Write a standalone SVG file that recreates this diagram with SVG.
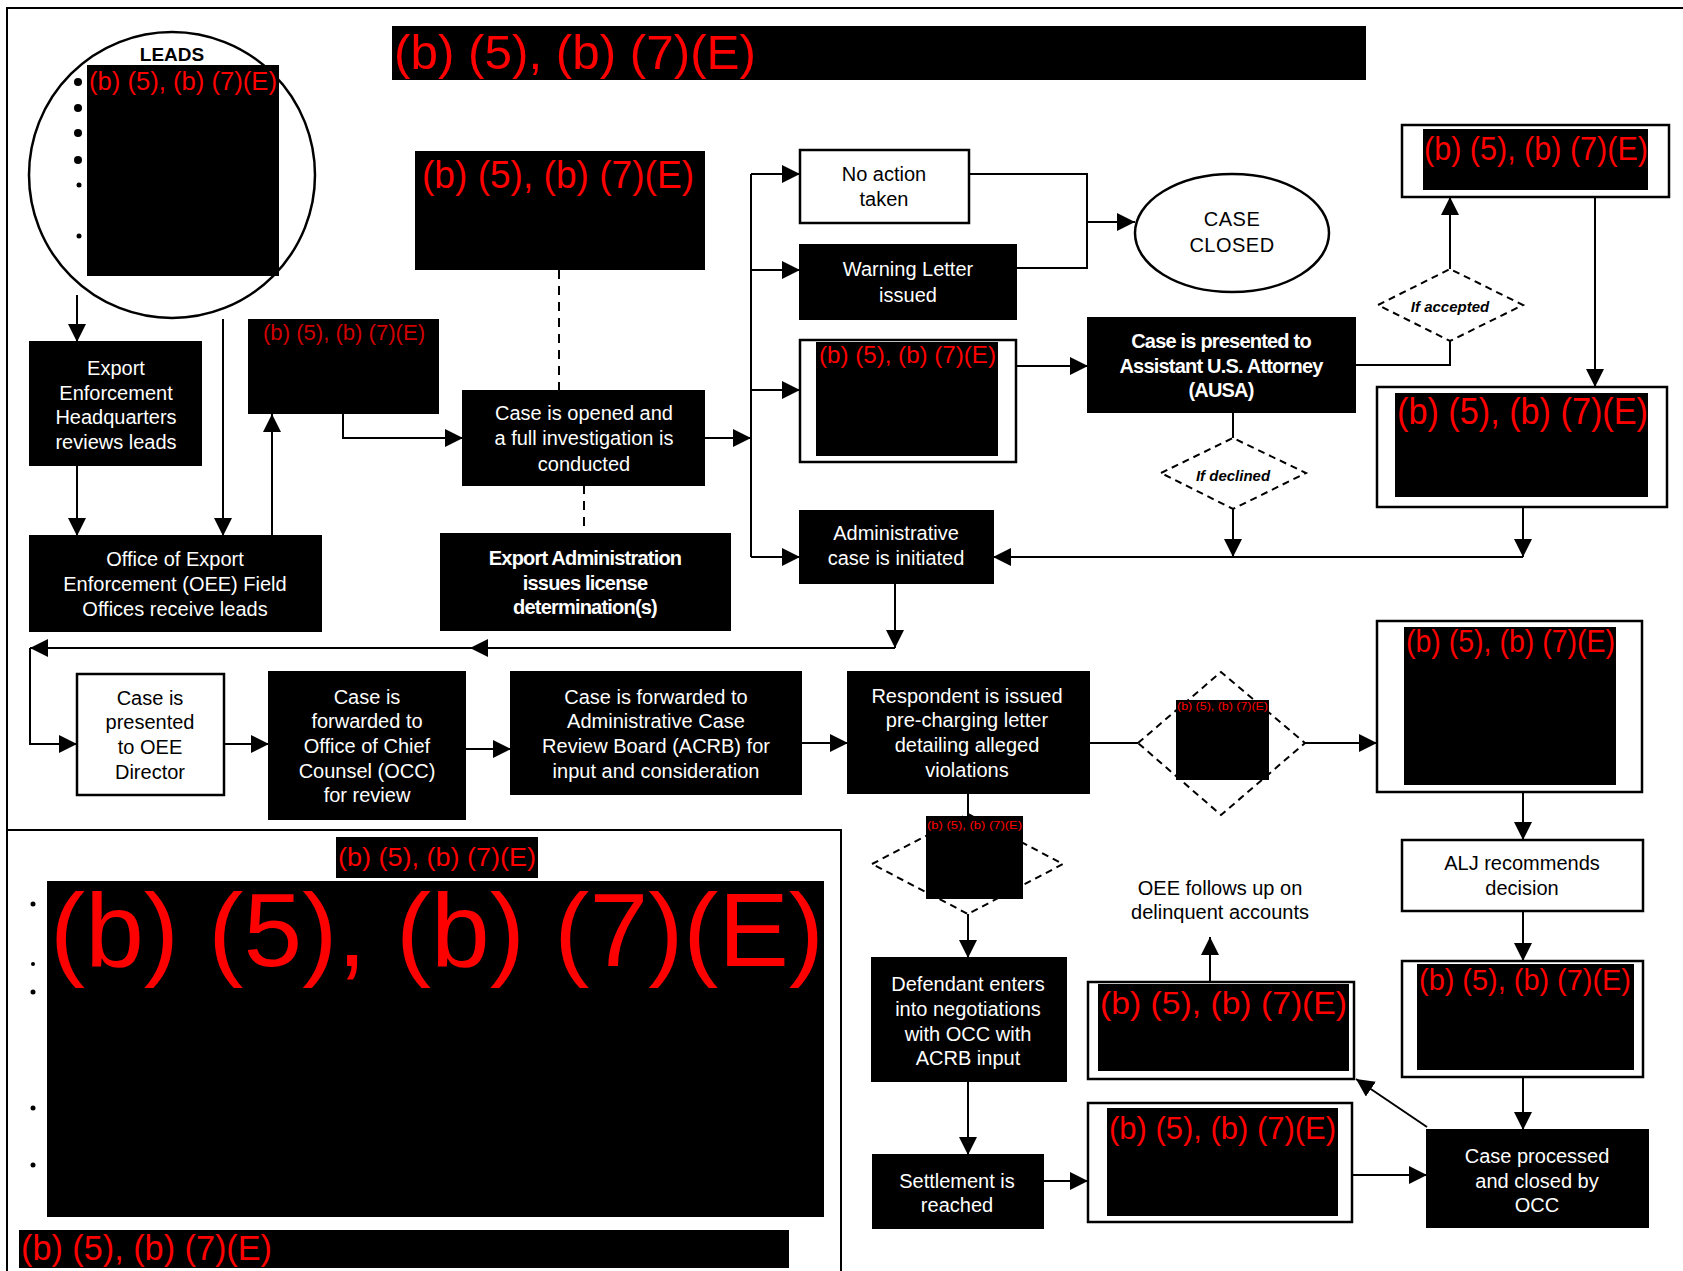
<svg xmlns="http://www.w3.org/2000/svg" width="1683" height="1271" viewBox="0 0 1683 1271">
<defs>
<marker id="ah" markerUnits="userSpaceOnUse" markerWidth="18" markerHeight="18" refX="18" refY="9" orient="auto" viewBox="0 0 18 18">
<path d="M0,0 L18,9 L0,18 z" fill="#000"/>
</marker>
<style>
.t{font-family:"Liberation Sans",Arial,sans-serif;font-size:20px;text-anchor:middle;dominant-baseline:central}
.w{fill:#fff}
.k{fill:#000}
.b{font-weight:bold;letter-spacing:-0.8px}
.bx{fill:#000;stroke:#000;stroke-width:2}
.wb{fill:#fff;stroke:#000;stroke-width:2.5}
.red{font-family:"Liberation Sans",Arial,sans-serif;fill:#ff0000}
.dd{fill:#fff;stroke:#000;stroke-width:2;stroke-dasharray:7,5}
.c path{fill:none;stroke:#000;stroke-width:2}
.c .a{marker-end:url(#ah)}
.c .d{stroke-dasharray:9,7}
.fr{fill:none;stroke:#000;stroke-width:2}
</style>
</defs>
<rect width="1683" height="1271" fill="#fff"/>

<g id="frame">
<path class="fr" d="M6,8 H1683 M7,8 V1271 M7,830 H841 V1271"/>
</g>

<g id="leads">
<ellipse cx="172" cy="175" rx="143" ry="143" fill="#fff" stroke="#000" stroke-width="2.5"/>
<text class="t k" x="172" y="54" style="font-weight:bold;font-size:19px">LEADS</text>
<circle cx="78" cy="82" r="4"/><circle cx="78" cy="108" r="4"/><circle cx="78" cy="133" r="4"/><circle cx="78" cy="160" r="4"/><circle cx="79" cy="185" r="2.5"/><circle cx="79" cy="236" r="2.5"/>
<rect x="87" y="65" width="192" height="211" fill="#000"/>
<text class="red" x="89" y="90" font-size="25.5" textLength="188" lengthAdjust="spacingAndGlyphs">(b) (5), (b) (7)(E)</text>
</g>

<g id="top-redaction">
<rect x="392" y="26" width="974" height="54" fill="#000"/>
<text class="red" x="394" y="69" font-size="49" textLength="362" lengthAdjust="spacingAndGlyphs">(b) (5), (b) (7)(E)</text>
</g>

<g id="redaction-mid">
<rect x="415" y="151" width="290" height="119" fill="#000"/>
<text class="red" x="422" y="188" font-size="38" textLength="272" lengthAdjust="spacingAndGlyphs">(b) (5), (b) (7)(E)</text>
</g>

<g id="hq">
<rect class="bx" x="30" y="342" width="171" height="123"/>
<text class="t w" x="116" y="368">Export</text>
<text class="t w" x="116" y="393">Enforcement</text>
<text class="t w" x="116" y="417">Headquarters</text>
<text class="t w" x="116" y="442">reviews leads</text>
</g>

<g id="field-offices">
<rect class="bx" x="30" y="536" width="291" height="95"/>
<text class="t w" x="175" y="559">Office of Export</text>
<text class="t w" x="175" y="584">Enforcement (OEE) Field</text>
<text class="t w" x="175" y="609">Offices receive leads</text>
</g>

<g id="redaction-small">
<rect x="248" y="319" width="191" height="95" fill="#000"/>
<text class="red" x="263" y="340" font-size="22" textLength="162" lengthAdjust="spacingAndGlyphs" style="fill:#d00000">(b) (5), (b) (7)(E)</text>
</g>

<g id="case-opened">
<rect class="bx" x="463" y="391" width="241" height="94"/>
<text class="t w" x="584" y="413">Case is opened and</text>
<text class="t w" x="584" y="438">a full investigation is</text>
<text class="t w" x="584" y="464">conducted</text>
</g>

<g id="export-admin">
<rect class="bx" x="441" y="534" width="289" height="96"/>
<text class="t w b" x="585" y="558">Export Administration</text>
<text class="t w b" x="585" y="583">issues license</text>
<text class="t w b" x="585" y="607">determination(s)</text>
</g>

<g id="no-action">
<rect class="wb" x="800" y="150" width="169" height="73"/>
<text class="t k" x="884" y="174">No action</text>
<text class="t k" x="884" y="199">taken</text>
</g>

<g id="warning">
<rect class="bx" x="800" y="245" width="216" height="74"/>
<text class="t w" x="908" y="269">Warning Letter</text>
<text class="t w" x="908" y="295">issued</text>
</g>

<g id="redaction-branch">
<rect class="wb" x="800" y="340" width="216" height="122"/>
<rect x="816" y="342" width="182" height="114" fill="#000"/>
<text class="red" x="819" y="363" font-size="24" textLength="177" lengthAdjust="spacingAndGlyphs">(b) (5), (b) (7)(E)</text>
</g>

<g id="admin-case">
<rect class="bx" x="800" y="511" width="193" height="72"/>
<text class="t w" x="896" y="533">Administrative</text>
<text class="t w" x="896" y="558">case is initiated</text>
</g>

<g id="case-closed">
<ellipse cx="1232" cy="233" rx="97" ry="59" fill="#fff" stroke="#000" stroke-width="2.5"/>
<text class="t k" x="1232" y="219" style="letter-spacing:0.5px">CASE</text>
<text class="t k" x="1232" y="245" style="letter-spacing:0.5px">CLOSED</text>
</g>

<g id="ausa">
<rect class="bx" x="1088" y="318" width="267" height="94"/>
<text class="t w b" x="1221" y="341">Case is presented to</text>
<text class="t w b" x="1221" y="366">Assistant U.S. Attorney</text>
<text class="t w b" x="1221" y="390">(AUSA)</text>
</g>

<g id="if-accepted">
<path class="dd" d="M1378,305 L1450,269 L1523,305 L1450,341 Z"/>
<text class="t k" x="1450" y="306" style="font-size:15px;font-style:italic;font-weight:bold">If accepted</text>
</g>

<g id="if-declined">
<path class="dd" d="M1161,473 L1233,438 L1306,473 L1233,509 Z"/>
<text class="t k" x="1233" y="475" style="font-size:15px;font-style:italic;font-weight:bold">If declined</text>
</g>

<g id="redaction-topright">
<rect class="wb" x="1402" y="125" width="267" height="72"/>
<rect x="1423" y="129" width="225" height="61" fill="#000"/>
<text class="red" x="1424" y="160" font-size="33" textLength="224" lengthAdjust="spacingAndGlyphs">(b) (5), (b) (7)(E)</text>
</g>

<g id="redaction-right2">
<rect class="wb" x="1377" y="387" width="290" height="120"/>
<rect x="1395" y="393" width="253" height="104" fill="#000"/>
<text class="red" x="1397" y="424" font-size="36" textLength="251" lengthAdjust="spacingAndGlyphs">(b) (5), (b) (7)(E)</text>
</g>

<g id="oee-director">
<rect class="wb" x="77" y="674" width="147" height="121"/>
<text class="t k" x="150" y="698">Case is</text>
<text class="t k" x="150" y="722">presented</text>
<text class="t k" x="150" y="747">to OEE</text>
<text class="t k" x="150" y="772">Director</text>
</g>

<g id="occ">
<rect class="bx" x="269" y="672" width="196" height="147"/>
<text class="t w" x="367" y="697">Case is</text>
<text class="t w" x="367" y="721">forwarded to</text>
<text class="t w" x="367" y="746">Office of Chief</text>
<text class="t w" x="367" y="771">Counsel (OCC)</text>
<text class="t w" x="367" y="795">for review</text>
</g>

<g id="acrb">
<rect class="bx" x="511" y="672" width="290" height="122"/>
<text class="t w" x="656" y="697">Case is forwarded to</text>
<text class="t w" x="656" y="721">Administrative Case</text>
<text class="t w" x="656" y="746">Review Board (ACRB) for</text>
<text class="t w" x="656" y="771">input and consideration</text>
</g>

<g id="respondent">
<rect class="bx" x="848" y="672" width="241" height="121"/>
<text class="t w" x="967" y="696">Respondent is issued</text>
<text class="t w" x="967" y="720">pre-charging letter</text>
<text class="t w" x="967" y="745">detailing alleged</text>
<text class="t w" x="967" y="770">violations</text>
</g>

<g id="diamond-right">
<path class="dd" d="M1138,743 L1221,672 L1305,743 L1221,815 Z"/>
<rect x="1176" y="700" width="93" height="80" fill="#000"/>
<text class="red" x="1177" y="710" font-size="10" textLength="91" lengthAdjust="spacingAndGlyphs">(b) (5), (b) (7)(E)</text>
</g>

<g id="redaction-big-right">
<rect class="wb" x="1377" y="621" width="265" height="171"/>
<rect x="1404" y="627" width="212" height="158" fill="#000"/>
<text class="red" x="1406" y="652" font-size="31" textLength="209" lengthAdjust="spacingAndGlyphs">(b) (5), (b) (7)(E)</text>
</g>

<g id="alj">
<rect class="wb" x="1402" y="840" width="241" height="71"/>
<text class="t k" x="1522" y="863">ALJ recommends</text>
<text class="t k" x="1522" y="888">decision</text>
</g>

<g id="redaction-alj">
<rect class="wb" x="1402" y="961" width="241" height="116"/>
<rect x="1417" y="964" width="217" height="106" fill="#000"/>
<text class="red" x="1419" y="990" font-size="30" textLength="212" lengthAdjust="spacingAndGlyphs">(b) (5), (b) (7)(E)</text>
</g>

<g id="case-processed">
<rect class="bx" x="1427" y="1130" width="221" height="97"/>
<text class="t w" x="1537" y="1156">Case processed</text>
<text class="t w" x="1537" y="1181">and closed by</text>
<text class="t w" x="1537" y="1205">OCC</text>
</g>

<g id="diamond-lower">
<path class="dd" d="M872,864 L968,814 L1063,864 L968,914 Z"/>
<rect x="926" y="816" width="97" height="83" fill="#000"/>
<text class="red" x="927" y="829" font-size="11" textLength="95" lengthAdjust="spacingAndGlyphs">(b) (5), (b) (7)(E)</text>
</g>

<g id="defendant">
<rect class="bx" x="872" y="958" width="194" height="123"/>
<text class="t w" x="968" y="984">Defendant enters</text>
<text class="t w" x="968" y="1009">into negotiations</text>
<text class="t w" x="968" y="1034">with OCC with</text>
<text class="t w" x="968" y="1058">ACRB input</text>
</g>

<g id="settlement">
<rect class="bx" x="873" y="1155" width="170" height="73"/>
<text class="t w" x="957" y="1181">Settlement is</text>
<text class="t w" x="957" y="1205">reached</text>
</g>

<g id="redaction-settlement">
<rect class="wb" x="1088" y="1103" width="264" height="119"/>
<rect x="1107" y="1108" width="231" height="108" fill="#000"/>
<text class="red" x="1109" y="1139" font-size="31" textLength="227" lengthAdjust="spacingAndGlyphs">(b) (5), (b) (7)(E)</text>
</g>

<g id="redaction-followup">
<rect class="wb" x="1088" y="982" width="266" height="97"/>
<rect x="1098" y="984" width="251" height="87" fill="#000"/>
<text class="red" x="1100" y="1014" font-size="32" textLength="247" lengthAdjust="spacingAndGlyphs">(b) (5), (b) (7)(E)</text>
</g>

<g id="oee-follows">
<text class="t k" x="1220" y="888">OEE follows up on</text>
<text class="t k" x="1220" y="912">delinquent accounts</text>
</g>

<g id="bottom-left-redactions">
<rect x="336" y="837" width="202" height="41" fill="#000"/>
<text class="red" x="338" y="866" font-size="26" textLength="198" lengthAdjust="spacingAndGlyphs">(b) (5), (b) (7)(E)</text>
<circle cx="33" cy="904" r="2.5"/><circle cx="33" cy="964" r="2"/><circle cx="33" cy="992" r="2.5"/><circle cx="33" cy="1108" r="2.5"/><circle cx="33" cy="1165" r="2.5"/>
<rect x="47" y="881" width="777" height="336" fill="#000"/>
<text class="red" x="50" y="966" font-size="104" textLength="774" lengthAdjust="spacingAndGlyphs">(b) (5), (b) (7)(E)</text>
<rect x="19" y="1230" width="770" height="38" fill="#000"/>
<text class="red" x="21" y="1260" font-size="35" textLength="251" lengthAdjust="spacingAndGlyphs">(b) (5), (b) (7)(E)</text>
</g>

<g id="connectors" class="c">
<path class="a" d="M77,295 V342"/>
<path class="a" d="M223,319 V536"/>
<path class="a" d="M77,465 V536"/>
<path class="a" d="M272,536 V414"/>
<path class="a" d="M343,414 V438 H463"/>
<path class="d" d="M559,270 V391"/>
<path class="d" d="M584,485 V534"/>
<path class="a" d="M704,438 H751"/>
<path d="M751,174 V557"/>
<path class="a" d="M751,174 H800"/>
<path class="a" d="M751,270 H800"/>
<path class="a" d="M751,390 H800"/>
<path class="a" d="M751,557 H800"/>
<path d="M969,174 H1087 V268 H1016"/>
<path class="a" d="M1087,222 H1135"/>
<path class="a" d="M1016,366 H1088"/>
<path d="M1355,365 H1450 V341"/>
<path class="a" d="M1450,269 V197"/>
<path class="a" d="M1595,197 V387"/>
<path d="M1233,412 V438"/>
<path class="a" d="M1233,509 V557"/>
<path class="a" d="M1523,507 V557"/>
<path class="a" d="M1523,557 H993"/>
<path class="a" d="M895,583 V648"/>
<path class="a" d="M895,648 H470"/>
<path class="a" d="M470,648 H30"/>
<path class="a" d="M30,648 V744 H77"/>
<path class="a" d="M224,744 H269"/>
<path class="a" d="M465,749 H511"/>
<path class="a" d="M801,743 H848"/>
<path d="M1089,743 H1138"/>
<path class="a" d="M1305,743 H1377"/>
<path class="a" d="M1523,792 V840"/>
<path class="a" d="M1523,911 V961"/>
<path class="a" d="M1523,1077 V1130"/>
<path class="a" d="M1427,1127 L1356,1079"/>
<path class="a" d="M1210,982 V937"/>
<path d="M968,793 V816"/>
<path class="a" d="M968,914 V958"/>
<path class="a" d="M968,1081 V1155"/>
<path class="a" d="M1043,1181 H1088"/>
<path class="a" d="M1352,1175 H1427"/>
</g>
</svg>
